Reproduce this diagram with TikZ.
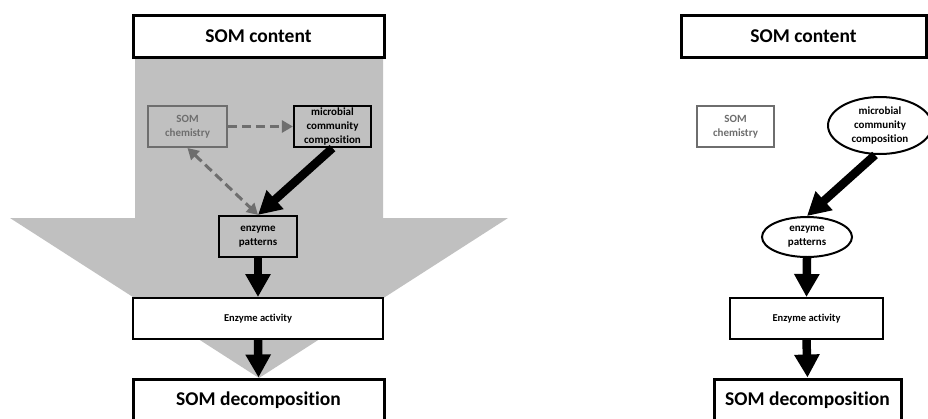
\documentclass[tikz,border=0pt]{standalone}
\usepackage{fontspec}
\setmainfont[Ligatures=NoCommon]{Carlito}
\usetikzlibrary{arrows.meta,shapes.geometric}
\definecolor{bandgrey}{HTML}{C0C0C0}
\definecolor{softgrey}{HTML}{6E6E6E}
\tikzset{
  bigbox/.style={draw=black, line width=3pt, fill=white, minimum height=42pt, inner sep=0pt, font=\fontsize{19.5}{21}\selectfont\bfseries},
  actbox/.style={draw=black, line width=2pt, fill=white, minimum height=41pt, inner sep=0pt, font=\fontsize{10.5}{12}\selectfont\bfseries},
  smallbox/.style={draw=black, line width=2.2pt, minimum height=41pt, inner sep=0pt, align=center, font=\fontsize{11}{13.8}\selectfont\bfseries},
  greybox/.style={draw=softgrey, line width=2pt, text=softgrey, minimum height=41pt, inner sep=0pt, align=center, font=\fontsize{11}{13.8}\selectfont\bfseries},
  ovalnode/.style={ellipse, draw=black, line width=2pt, fill=white, inner sep=0pt, align=center, font=\fontsize{11}{13.8}\selectfont\bfseries},
  fatarrow/.style={line width=8.5pt, -{Triangle[length=23pt,width=24pt]}},
  dasharrow/.style={draw=softgrey, line width=3pt, dash pattern=on 9pt off 5pt, -{Triangle[length=11pt,width=12pt]}},
  dashboth/.style={draw=softgrey, line width=3pt, dash pattern=on 9pt off 5pt, {Triangle[length=11pt,width=12pt]}-{Triangle[length=11pt,width=12pt]}}
}
\begin{document}
\begin{tikzpicture}[x=1pt,y=-1pt]
\clip (0,0) rectangle (928,418);
\fill[white] (0,0) rectangle (928,418);
% big grey arrow (left panel)
\fill[bandgrey] (135,57) -- (383,57) -- (383,218) -- (508,218) -- (259,378) -- (10,218) -- (135,218) -- cycle;

% ---------- left panel ----------
\node[bigbox, minimum width=251pt] (contentL) at (258.5,36) {SOM content};
\node[greybox, minimum width=79pt] (chemL) at (187.5,126.5) {SOM\\chemistry};
\node[smallbox, minimum width=77pt] (microL) at (332.5,126.5) {microbial\\community\\composition};
\node[smallbox, minimum width=78pt] (patternsL) at (258,236.5) {enzyme\\patterns};
\node[actbox, minimum width=250pt] (activityL) at (258,318.5) {Enzyme activity};
\node[bigbox, minimum width=251pt] (decompL) at (258.5,400) {SOM decomposition};

\draw[dasharrow] (chemL.east) -- (microL.west);
\draw[dashboth] (chemL.south) -- (patternsL.north);
\draw[fatarrow] (microL.south) -- (patternsL.north);
\draw[fatarrow] (patternsL.south) -- (activityL.north);
\draw[fatarrow] (activityL.south) -- (decompL.north);

% ---------- right panel ----------
\node[bigbox, minimum width=245pt] (contentR) at (803.5,36) {SOM content};
\node[greybox, minimum width=77pt] (chemR) at (735.5,126.5) {SOM\\chemistry};
\node[ovalnode, minimum width=104pt, minimum height=57pt] (microR) at (880,125.5) {microbial\\community\\composition};
\node[ovalnode, minimum width=90pt, minimum height=40pt] (patternsR) at (807,237) {enzyme\\patterns};
\node[actbox, minimum width=153pt] (activityR) at (806.5,318.5) {Enzyme activity};
\node[bigbox, minimum width=187pt] (decompR) at (807.5,400) {SOM decomposition};

\draw[fatarrow] ([xshift=-5pt]microR.south) -- (patternsR.north);
\draw[fatarrow] (patternsR.south) -- (activityR.north);
\draw[fatarrow] (activityR.south) -- (decompR.north);
\end{tikzpicture}
\end{document}
